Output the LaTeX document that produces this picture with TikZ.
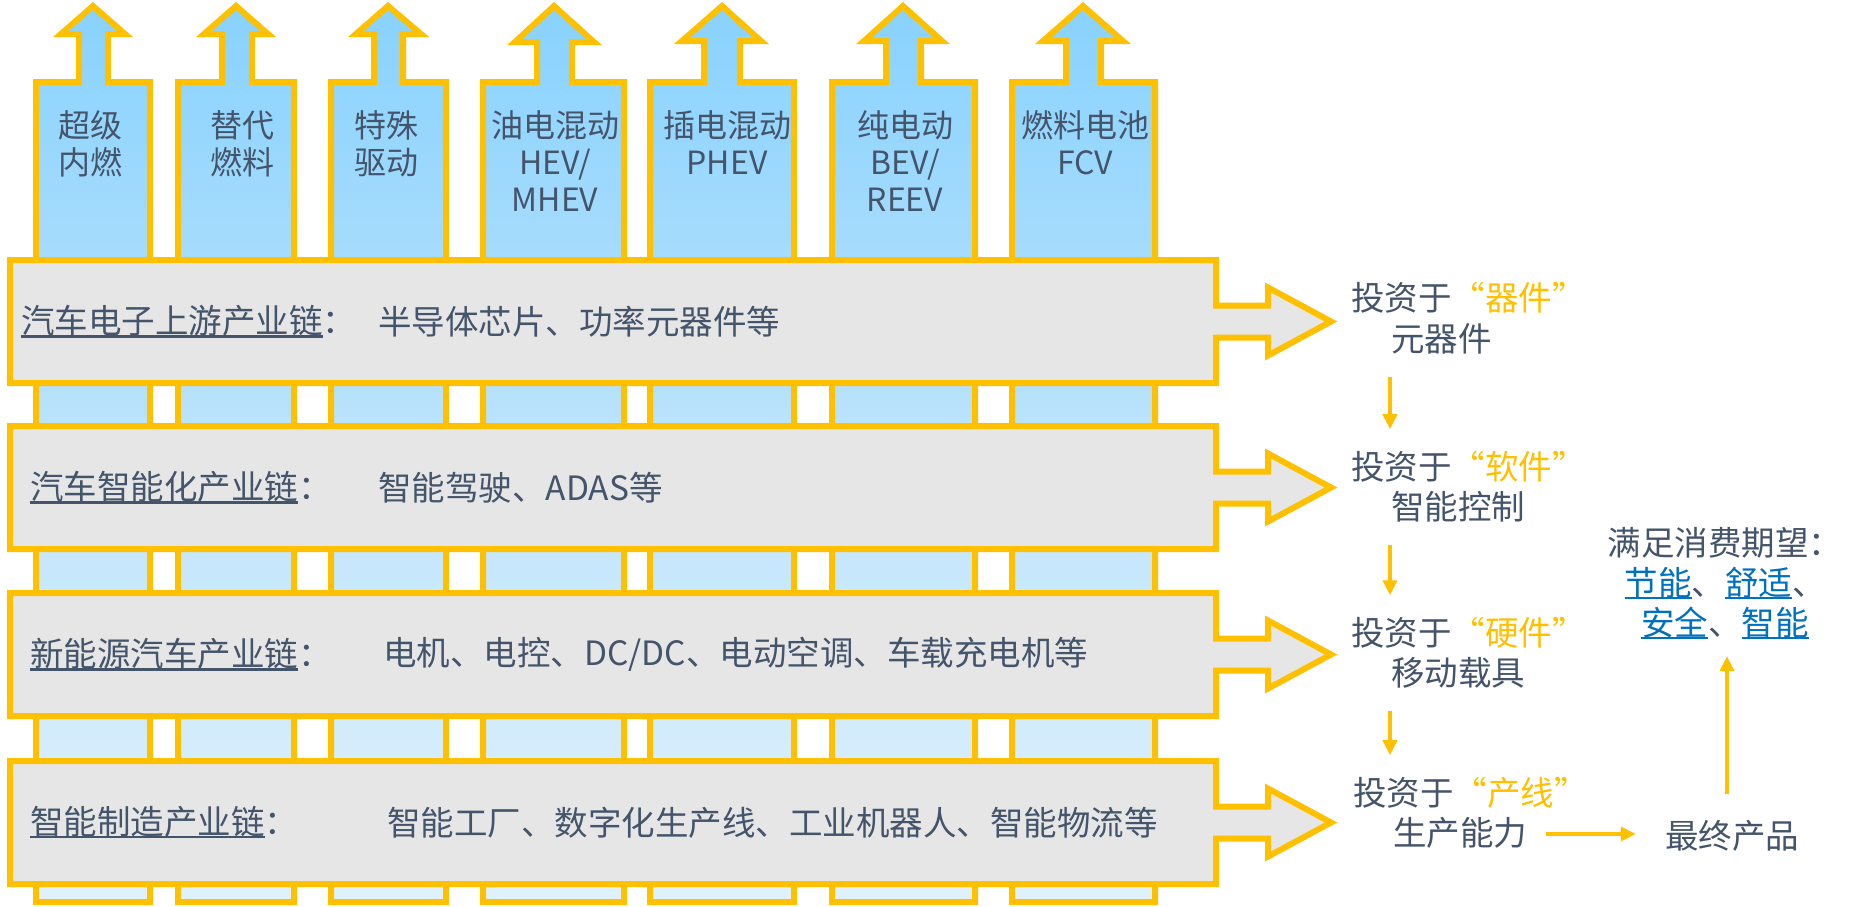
\documentclass[tikz,border=0pt]{standalone}
\usepackage{fontspec}
\setmainfont{Noto Sans CJK SC}
\usetikzlibrary{arrows.meta,calc}
\definecolor{yel}{RGB}{255,192,0}
\definecolor{txt}{RGB}{68,84,106}
\definecolor{lnk}{RGB}{0,112,192}
\definecolor{boxgray}{RGB}{230,230,230}
\definecolor{ctop}{RGB}{136,210,254}
\definecolor{cmid}{RGB}{190,228,252}
\definecolor{cbot}{RGB}{224,241,252}
\newcommand\myul[1]{\setbox0\hbox{#1}\rlap{\rule[-0.11em]{\wd0}{0.07em}}\box0}
\begin{document}
\begin{tikzpicture}[x=1pt,y=-1pt,
 colshape/.style={top color=ctop, bottom color=cbot, middle color=cmid, draw=yel, line width=6pt, line join=miter},
 chainbox/.style={fill=boxgray, draw=yel, line width=6pt, line join=miter},
 lbl/.style={inner sep=0pt, text=txt, font=\fontsize{33.5}{40}\selectfont},
 collbl/.style={inner sep=0pt, text=txt, align=center, font=\fontsize{32}{37}\selectfont, anchor=north},
 arr/.style={draw=yel, line width=4pt, -{Triangle[width=14pt,length=15pt]}},
]
\useasboundingbox (0,0) rectangle (1866,906);

% vertical columns
\shadedraw[colshape] (36,902) -- (36,82) -- (79,82) -- (79,34) -- (61,34) -- (93,6) -- (125,34) -- (108,34) -- (108,82) -- (150,82) -- (150,902) -- cycle;
\shadedraw[colshape] (178,902) -- (178,82) -- (222,82) -- (222,34) -- (204,34) -- (236,6) -- (268,34) -- (252,34) -- (252,82) -- (294,82) -- (294,902) -- cycle;
\shadedraw[colshape] (331,902) -- (331,82) -- (374,82) -- (374,34) -- (356,34) -- (388,6) -- (421,34) -- (403,34) -- (403,82) -- (446,82) -- (446,902) -- cycle;
\shadedraw[colshape] (483,902) -- (483,82) -- (537,82) -- (537,42) -- (515,42) -- (554,6) -- (594,42) -- (572,42) -- (572,82) -- (624,82) -- (624,902) -- cycle;
\shadedraw[colshape] (650,902) -- (650,82) -- (704,82) -- (704,41) -- (682,41) -- (722,6) -- (761,41) -- (740,41) -- (740,82) -- (794,82) -- (794,902) -- cycle;
\shadedraw[colshape] (832,902) -- (832,82) -- (886,82) -- (886,41) -- (864,41) -- (903,6) -- (942,41) -- (921,41) -- (921,82) -- (975,82) -- (975,902) -- cycle;
\shadedraw[colshape] (1012,902) -- (1012,82) -- (1066,82) -- (1066,41) -- (1043,41) -- (1083,6) -- (1123,41) -- (1101,41) -- (1101,82) -- (1155,82) -- (1155,902) -- cycle;

\node[collbl] (c1) at (90,110) {超级\\内燃};
\node[collbl] (c2) at (242,110) {替代\\燃料};
\node[collbl] (c3) at (386,110) {特殊\\驱动};
\node[collbl] (c4) at (555,110) {油电混动\\HEV/\\MHEV};
\node[collbl] (c5) at (727,110) {插电混动\\PHEV};
\node[collbl] (c6) at (905,110) {纯电动\\BEV/\\REEV};
\node[collbl] (c7) at (1085,110) {燃料电池\\FCV};

% horizontal chain boxes with arrows
\foreach \cy in {321.5,487.5,654.5,822.5}{
  \filldraw[chainbox] (10,\cy-61.5) -- (1216,\cy-61.5) -- (1216,\cy-16) -- (1268,\cy-16) -- (1268,\cy-34) -- (1331,\cy) -- (1268,\cy+34) -- (1268,\cy+16) -- (1216,\cy+16) -- (1216,\cy+61.5) -- (10,\cy+61.5) -- cycle;
}

\node[lbl,anchor=west] (t1) at (21,321.5) {\myul{汽车电子上游产业链}：};
\node[lbl,anchor=west] (d1) at (378,321.5) {半导体芯片、功率元器件等};
\node[lbl,anchor=west] (t2) at (30,487.5) {\myul{汽车智能化产业链}：};
\node[lbl,anchor=west] (d2) at (378,487.5) {智能驾驶、ADAS等};
\node[lbl,anchor=west] (t3) at (30,654.5) {\myul{新能源汽车产业链}：};
\node[lbl,anchor=west] (d3) at (383,654.5) {电机、电控、DC/DC、电动空调、车载充电机等};
\node[lbl,anchor=west] (t4) at (30,822.5) {\myul{智能制造产业链}：};
\node[lbl,anchor=west] (d4) at (387,822.5) {智能工厂、数字化生产线、工业机器人、智能物流等};

% right labels
\node[lbl,anchor=west] (r1a) at (1351,298) {投资于\textcolor{yel}{“器件”}};
\node[lbl,anchor=west] (r1b) at (1391,339) {元器件};
\node[lbl,anchor=west] (r2a) at (1351,467) {投资于\textcolor{yel}{“软件”}};
\node[lbl,anchor=west] (r2b) at (1391,507) {智能控制};
\node[lbl,anchor=west] (r3a) at (1351,633) {投资于\textcolor{yel}{“硬件”}};
\node[lbl,anchor=west] (r3b) at (1391,673) {移动载具};
\node[lbl,anchor=west] (r4a) at (1353,793) {投资于\textcolor{yel}{“产线”}};
\node[lbl,anchor=west] (r4b) at (1393,833) {生产能力};

\node[lbl] (fin) at (1732,836) {最终产品};
\node[lbl,align=center] (want) at (1725,583) {满足消费期望：\\\textcolor{lnk}{\myul{节能}}、\textcolor{lnk}{\myul{舒适}}、\\\textcolor{lnk}{\myul{安全}}、\textcolor{lnk}{\myul{智能}}};

% small arrows
\draw[arr] ($(r1b.south west)+(-1,22)$) -- ($(r1b.south west |- r2a.north)+(-1,-22)$);
\draw[arr] ($(r2b.south west)+(-1,22)$) -- ($(r2b.south west |- r3a.north)+(-1,-22)$);
\draw[arr] ($(r3b.south west)+(-1,22)$) -- ($(r3b.south west |- r4a.north)+(-1,-22)$);
\draw[arr] ($(r4b.east)+(19,1)$) -- ($(fin.west |- r4b.east)+(-29,1)$);
\draw[arr] ($(fin.north)+(-5,-26)$) -- ($(fin.north |- want.south)+(-5,17)$);
\end{tikzpicture}
\end{document}
